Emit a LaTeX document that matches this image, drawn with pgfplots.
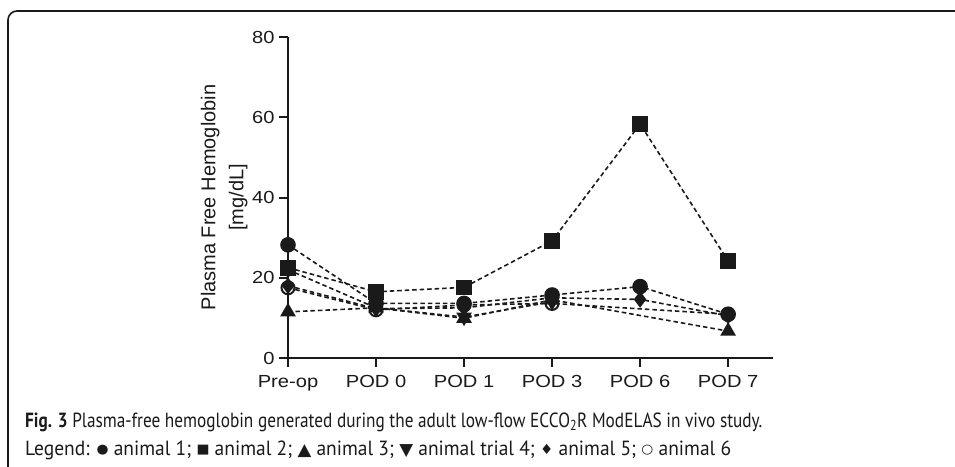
\documentclass[border=0pt]{standalone}
\usepackage{pgfplots}
\pgfplotsset{compat=1.18}
\usepackage{graphicx}
\usepackage{fontspec}
\setmainfont{Liberation Sans}
\newfontfamily\tickfont[FakeStretch=1.15]{Liberation Sans}
\newfontfamily\capfont[FakeStretch=0.9]{PT Sans}
\newfontfamily\symfont{DejaVu Sans}
\newcommand\sym[3]{\raisebox{#2}{\symfont\fontsize{#1}{#1}\selectfont #3}}

\definecolor{ink}{HTML}{1A1A1A}

\begin{document}
\begin{tikzpicture}[x=1pt,y=1pt]
\path[use as bounding box] (0,0) rectangle (955,466);
% figure frame
\draw[line width=1.6pt, color=ink, rounded corners=9pt] (8,-10) -- (8,455) -- (965,455);

\begin{axis}[
  at={(288pt,108pt)}, anchor=south west,
  scale only axis, width=485pt, height=321pt,
  xmin=0, xmax=5.51, ymin=0, ymax=80,
  axis x line=bottom, axis y line=left,
  axis line style={-, line width=2pt, color=ink},
  xtick={0,1,2,3,4,5},
  xticklabels={Pre-op,POD 0,POD 1,POD 3,POD 6,POD 7},
  ytick={0,20,40,60,80},
  tick align=outside,
  major tick length=9pt,
  major tick style={line width=2pt, color=ink},
  /pgf/number format/assume math mode=true,
  ticklabel style={font=\tickfont\fontsize{17.5}{20}\selectfont, color=ink},
  xticklabel style={yshift=-5pt},
  yticklabel style={xshift=-1pt},
  ylabel={Plasma Free Hemoglobin\\{}[mg/dL]},
  ylabel style={at={(axis description cs:-0.083,0.5)}, anchor=south, inner sep=0pt,
    align=center, font=\fontsize{20}{28}\selectfont, color=ink},
  clip=false,
  every axis plot/.append style={line width=1.6pt, dash pattern=on 4.5pt off 3pt, color=ink},
]
% animal 1 (filled circle)
\addplot[mark=*, mark size=7pt, mark options={solid, fill=ink}] coordinates {
 (0,28.2) (1,13.6) (2,13.6) (3,15.7) (4,17.8) (5,10.9)};
% animal 2 (square)
\addplot[mark=square*, mark size=7pt, mark options={solid, fill=ink}] coordinates {
 (0,22.5) (1,16.5) (2,17.6) (3,29.2) (4,58.3) (5,24.2)};
% animal 3 (triangle)
\addplot[mark=triangle*, mark size=7.5pt, mark options={solid, fill=ink}] coordinates {
 (0,11.5) (1,12.5) (2,9.9) (3,14.5) (5,6.7)};
% animal 4 (down triangle)
\addplot[mark=triangle*, mark size=7.5pt, mark options={solid, fill=ink, rotate=180}] coordinates {
 (0,22.0) (1,12.5) (2,10.2) (3,14.0)};
% animal 5 (diamond)
\addplot[mark=diamond*, mark size=7pt, mark options={solid, fill=ink}] coordinates {
 (0,18.0) (1,12.3) (2,12.5) (3,15.0) (4,14.6) (5,10.5)};
% animal 6 (open circle)
\addplot[mark=o, mark size=6.5pt, mark options={solid, line width=2pt}] coordinates {
 (0,17.5) (1,12.0) (2,13.2) (3,13.6) (5,10.9)};
\end{axis}

\node[anchor=base west, inner sep=0pt, color=ink] at (25,39)
  {\resizebox{737pt}{\height}{\capfont\fontsize{20.5}{24}\selectfont\textbf{Fig. 3} Plasma-free hemoglobin generated during the adult low-flow ECCO\textsubscript{2}R ModELAS in vivo study.}};
\node[anchor=base west, inner sep=0pt, color=ink] at (25,11)
  {\resizebox{706pt}{\height}{\capfont\fontsize{20.5}{24}\selectfont Legend: \sym{13}{1.5pt}{●} animal 1; \sym{13}{1.5pt}{■} animal 2; \sym{17}{0pt}{▲} animal 3; \sym{17}{0pt}{▼} animal trial 4; \sym{14}{1pt}{♦} animal 5; \sym{13}{1.5pt}{○} animal 6}};
\end{tikzpicture}
\end{document}
